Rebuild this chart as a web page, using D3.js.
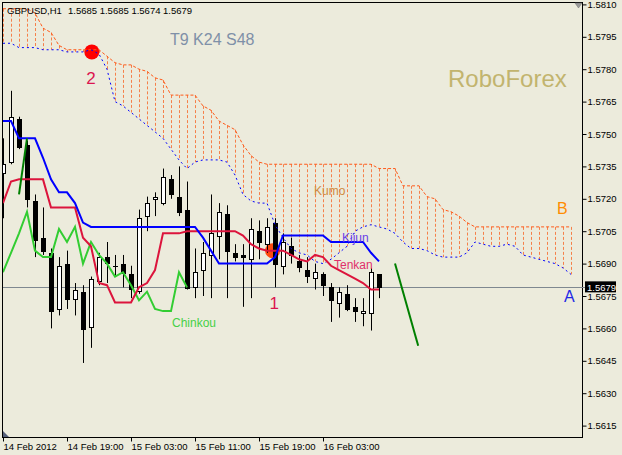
<!DOCTYPE html>
<html><head><meta charset="utf-8">
<script src="https://cdn.jsdelivr.net/npm/d3@7"></script>
<style>html,body{margin:0;padding:0;background:#ecebdc;} svg{display:block}</style>
</head><body><svg id="c" width="622" height="455"></svg>
<script>
// ---- data ----
const symbolLabel = "GBPUSD,H1";
const quoteLabel = "1.5685 1.5685 1.5674 1.5679";
const open  = [1.5732,1.5737,1.5757,1.5745,1.5719,1.5702,1.5695,1.5669,1.5690,1.5674,1.5677,1.5661,1.5682,1.5693,1.5689,1.5690,1.5685,1.5677,1.5712,1.5720,1.5718,1.5729,1.5721,1.5715,1.5679,1.5687,1.5694,1.5703,1.5713,1.5695,1.5694,1.5692,1.5705,1.5699,1.5709,1.5689,1.5698,1.5691,1.5687,1.5683,1.5685,1.5679,1.5672,1.5676,1.5670,1.5667,1.5667,1.5685];
const high  = [1.5748,1.5770,1.5758,1.5747,1.5722,1.5716,1.5697,1.5693,1.5696,1.5681,1.5680,1.5684,1.5695,1.5700,1.5694,1.5694,1.5689,1.5715,1.5721,1.5723,1.5734,1.5731,1.5735,1.5728,1.5697,1.5700,1.5722,1.5718,1.5717,1.5699,1.5699,1.5711,1.5710,1.5711,1.5711,1.5704,1.5702,1.5694,1.5693,1.5690,1.5686,1.5681,1.5679,1.5680,1.5674,1.5674,1.5688,1.5685];
const low   = [1.5711,1.5736,1.5743,1.5716,1.5693,1.5694,1.5660,1.5666,1.5669,1.5666,1.5644,1.5651,1.5680,1.5681,1.5684,1.5679,1.5674,1.5676,1.5705,1.5712,1.5717,1.5720,1.5712,1.5678,1.5674,1.5675,1.5674,1.5692,1.5674,1.5691,1.5670,1.5674,1.5692,1.5695,1.5679,1.5685,1.5690,1.5686,1.5681,1.5678,1.5675,1.5663,1.5665,1.5668,1.5663,1.5661,1.5659,1.5674];
const close = [1.5736,1.5758,1.5744,1.5720,1.5701,1.5696,1.5668,1.5689,1.5674,1.5678,1.5660,1.5683,1.5693,1.5690,1.5689,1.5686,1.5678,1.5711,1.5718,1.5721,1.5730,1.5722,1.5714,1.5679,1.5686,1.5695,1.5704,1.5714,1.5696,1.5693,1.5693,1.5706,1.5700,1.5707,1.5690,1.5700,1.5694,1.5688,1.5684,1.5686,1.5680,1.5673,1.5677,1.5669,1.5668,1.5668,1.5686,1.5679];
const tenkan = [1.5718,1.5728,1.5729,1.5729,1.5729,1.5729,1.5716,1.5716,1.5716,1.5716,1.5702,1.5698,1.5681,1.5680,1.5672,1.5672,1.5672,1.5679,1.5681,1.5687,1.5704,1.5704,1.5704,1.5705,1.5705,1.5705,1.5705,1.5705,1.5705,1.5705,1.5703,1.5699,1.5697,1.5696,1.5696,1.5696,1.5694,1.5692,1.5691,1.5694,1.5693,1.5689,1.5687,1.5685,1.5683,1.5681,1.5678,1.5678];
const kijun = [1.5756,1.5756,1.5748,1.5748,1.5748,1.5739,1.5729,1.5723,1.5723,1.5718,1.5709,1.5707,1.5707,1.5707,1.5707,1.5707,1.5707,1.5707,1.5707,1.5707,1.5707,1.5707,1.5707,1.5707,1.5707,1.5702,1.5696,1.5690,1.5690,1.5690,1.5690,1.5690,1.5690,1.5690,1.5693,1.5703,1.5703,1.5703,1.5703,1.5703,1.5703,1.5700,1.5700,1.5700,1.5700,1.5700,1.5695,1.5691];
const chinkou = [1.5686,1.5695,1.5704,1.5714,1.5696,1.5693,1.5693,1.5706,1.5700,1.5707,1.5690,1.5700,1.5694,1.5690,1.5684,1.5686,1.5680,1.5673,1.5677,1.5669,1.5668,1.5668,1.5686,1.5679];
const spanA = [1.5792,1.5792,1.5790,1.5790,1.5790,1.5789,1.5789,1.5789,1.5788,1.5788,1.5788,1.5789,1.5787,1.5780,1.5765,1.5763,1.5760,1.5757,1.5754,1.5751,1.5748,1.5743,1.5738,1.5734,1.5737,1.5738,1.5738,1.5738,1.5737,1.5731,1.5722,1.5719,1.5718,1.5718,1.5708,1.5702,1.5697,1.5695,1.5694,1.5691,1.5690,1.5692,1.5695,1.5698,1.5705,1.5707,1.5708,1.5707,1.5706,1.5704,1.5700,1.5697,1.5697,1.5696,1.5694,1.5693,1.5693,1.5693,1.5695,1.5700,1.5699,1.5698,1.5698,1.5699,1.5698,1.5694,1.5693,1.5692,1.5691,1.5690,1.5688,1.5685];
const spanB = [1.5808,1.5808,1.5808,1.5808,1.5806,1.5799,1.5797,1.5791,1.5789,1.5789,1.5789,1.5789,1.5789,1.5786,1.5783,1.5782,1.5782,1.5780,1.5779,1.5776,1.5775,1.5768,1.5768,1.5768,1.5768,1.5763,1.5761,1.5756,1.5754,1.5752,1.5745,1.5740,1.5737,1.5736,1.5736,1.5736,1.5736,1.5736,1.5736,1.5736,1.5736,1.5736,1.5736,1.5736,1.5736,1.5736,1.5736,1.5734,1.5734,1.5734,1.5726,1.5726,1.5726,1.5721,1.5720,1.5715,1.5714,1.5712,1.5709,1.5707,1.5707,1.5707,1.5707,1.5707,1.5707,1.5707,1.5707,1.5707,1.5707,1.5707,1.5707,1.5707];
const priceTicks = [1.5810,1.5795,1.5780,1.5765,1.5750,1.5735,1.5720,1.5705,1.5690,1.5675,1.5660,1.5645,1.5630,1.5615];
const timeTickIdx = [0,8,16,24,32,40];
const timeLabels = ["14 Feb 2012","14 Feb 19:00","15 Feb 03:00","15 Feb 11:00","15 Feb 19:00","16 Feb 03:00"];
const trendLines = [{i1:2,p1:1.5722,i2:3,p2:1.5748},{i1:49,p1:1.5690,i2:51.9,p2:1.5652}];
const markers = [{i:11.1,p:1.5788,label:"2",li:11,lp:1.5773,color:"#ff0000"},{i:33.7,p:1.5696,label:"1",li:33.9,lp:1.5669,color:"#ff4a10"}];
const lastPrice = 1.5679;

// ---- drawing ----
const svg = d3.select('#c');
const F = "'Liberation Sans', Arial, sans-serif";
svg.append('rect').attr('width',622).attr('height',455).attr('fill','#ecebdc');
const x = d3.scaleLinear().domain([0,71]).range([3,571]);
const y = d3.scaleLinear().domain([1.5615,1.5810]).range([425.6,4.4]);
const L=2, T=2, R=582, B=437;

svg.append('defs').append('clipPath').attr('id','clip')
  .append('rect').attr('x',L+1).attr('y',T+1).attr('width',R-L-1).attr('height',B-T-1);
const g = svg.append('g').attr('clip-path','url(#clip)');

// kumo hatch
g.append('g').selectAll('line').data(d3.range(spanA.length)).join('line')
  .attr('x1',i=>Math.round(x(i))+0.5).attr('x2',i=>Math.round(x(i))+0.5)
  .attr('y1',i=>y(spanB[i])).attr('y2',i=>y(spanA[i]))
  .attr('stroke','#f5804a').attr('stroke-width',1).attr('stroke-dasharray','3,2');

// background markers
g.append('g').selectAll('circle').data(markers).join('circle')
  .attr('cx',d=>x(d.i)).attr('cy',d=>y(d.p)).attr('r',7.5).attr('fill',d=>d.color);

// current price line
g.append('line').attr('x1',L).attr('x2',R).attr('y1',Math.round(y(lastPrice))+0.5).attr('y2',Math.round(y(lastPrice))+0.5)
  .attr('stroke','#7f8890').attr('stroke-width',1);

// candles
const cg = g.append('g');
const idx = d3.range(open.length);
cg.selectAll('line.w').data(idx).join('line').attr('class','w')
  .attr('x1',i=>Math.round(x(i))+0.5).attr('x2',i=>Math.round(x(i))+0.5)
  .attr('y1',i=>y(high[i])).attr('y2',i=>y(low[i]))
  .attr('stroke','#000').attr('stroke-width',1);
cg.selectAll('rect.b').data(idx).join('rect').attr('class','b')
  .each(function(i){
    const cx = Math.round(x(i));
    const top = y(Math.max(open[i],close[i])), bot = y(Math.min(open[i],close[i]));
    const bull = close[i] > open[i];
    const s = d3.select(this);
    if (close[i] === open[i]) {
      s.attr('x',cx-2).attr('y',Math.round(top)).attr('width',5).attr('height',1).attr('fill','#000');
    } else if (bull) {
      s.attr('x',cx-1.5).attr('y',Math.round(top)+0.5).attr('width',4).attr('height',Math.max(1,Math.round(bot-top)))
       .attr('fill','#fff').attr('stroke','#000').attr('stroke-width',1);
    } else {
      s.attr('x',cx-2).attr('y',Math.round(top)).attr('width',5).attr('height',Math.max(1,Math.round(bot-top)+1)).attr('fill','#000');
    }
  });

// indicator lines
const line = d3.line().x((d,i)=>x(i)).y(d=>y(d));
g.append('path').attr('d',line(spanB)).attr('fill','none').attr('stroke','#ff5a1a').attr('stroke-width',1).attr('stroke-dasharray','3,2');
g.append('path').attr('d',line(spanA)).attr('fill','none').attr('stroke','#0000ff').attr('stroke-width',1).attr('stroke-dasharray','2,3');
g.append('path').attr('d',line(chinkou)).attr('fill','none').attr('stroke','#32cd32').attr('stroke-width',2);
g.append('path').attr('d',line(tenkan)).attr('fill','none').attr('stroke','#dc143c').attr('stroke-width',2);
g.append('path').attr('d',line(kijun)).attr('fill','none').attr('stroke','#0000ff').attr('stroke-width',2);

// trend lines
g.append('g').selectAll('line').data(trendLines).join('line')
  .attr('x1',d=>x(d.i1)).attr('y1',d=>y(d.p1)).attr('x2',d=>x(d.i2)).attr('y2',d=>y(d.p2))
  .attr('stroke','#008000').attr('stroke-width',2);

// marker labels
g.append('g').selectAll('text').data(markers).join('text')
  .attr('x',d=>x(d.li)).attr('y',d=>y(d.lp)).attr('text-anchor','middle')
  .attr('font-family',F).attr('font-size',17).attr('fill','#dc1450').text(d=>d.label);

// annotation texts
const ann = [
  {t:"T9 K24 S48", x:170, y:45, s:16, c:"#7f90a8"},
  {t:"RoboForex", x:448, y:87, s:24, c:"#c2b46e"},
  {t:"Kumo", x:314, y:195, s:12, c:"#d08a40"},
  {t:"Kijun", x:342, y:242, s:12, c:"#6a40e8"},
  {t:"Tenkan", x:334, y:269, s:12, c:"#e0306a"},
  {t:"Chinkou", x:172, y:327, s:12, c:"#46d046"},
  {t:"B", x:557, y:214, s:16, c:"#ff8c00"},
  {t:"A", x:564, y:302, s:16, c:"#1e28e6"}
];
svg.append('g').selectAll('text').data(ann).join('text')
  .attr('x',d=>d.x).attr('y',d=>d.y).attr('font-family',F).attr('font-size',d=>d.s)
  .attr('fill',d=>d.c).text(d=>d.t);

// header
svg.append('text').attr('x',7).attr('y',14).attr('font-family',F).attr('font-size',9.5).attr('fill','#000').text(symbolLabel);
svg.append('text').attr('x',68).attr('y',14).attr('font-family',F).attr('font-size',9.5).attr('fill','#000').text(quoteLabel);

// frame
svg.append('rect').attr('x',L+0.5).attr('y',T+0.5).attr('width',R-L).attr('height',B-T)
  .attr('fill','none').attr('stroke','#000').attr('stroke-width',1);

// axes
const ay = svg.append('g').attr('transform',`translate(${R+0.5},0)`)
  .call(d3.axisRight(y).tickValues(priceTicks).tickSize(4).tickPadding(1).tickFormat(d3.format('.4f')));
ay.select('.domain').remove();
ay.selectAll('text').attr('font-family',F).attr('font-size',9.5).attr('fill','#000');
ay.selectAll('line').attr('stroke','#000');

const ax = svg.append('g').attr('transform',`translate(0,${B+0.5})`)
  .call(d3.axisBottom(x).tickValues(timeTickIdx).tickSize(4).tickPadding(2).tickFormat((d,i)=>timeLabels[i]));
ax.select('.domain').remove();
ax.selectAll('text').attr('font-family',F).attr('font-size',9.5).attr('fill','#000').attr('text-anchor','start');
ax.selectAll('line').attr('stroke','#000');

// current price box (covers the tick label under it, as in the terminal)
const py = y(lastPrice);
svg.append('line').attr('x1',R).attr('x2',585).attr('y1',Math.round(py)+0.5).attr('y2',Math.round(py)+0.5).attr('stroke','#7f8890');
svg.append('rect').attr('x',585).attr('y',py-6).attr('width',31).attr('height',11).attr('fill','#000');
svg.append('text').attr('x',587).attr('y',py+3.3).attr('font-family',F).attr('font-size',9.5).attr('fill','#fff').text(d3.format('.4f')(lastPrice));

// small chart markers
svg.append('path').attr('d','M575,3 L582,3 L578.5,8 Z').attr('fill','#9a9a9a').attr('stroke','#707070').attr('stroke-width',0.5);
svg.append('path').attr('d','M3,431 L3,437 L9,437 Z').attr('fill','#56607a');
</script></body></html>
